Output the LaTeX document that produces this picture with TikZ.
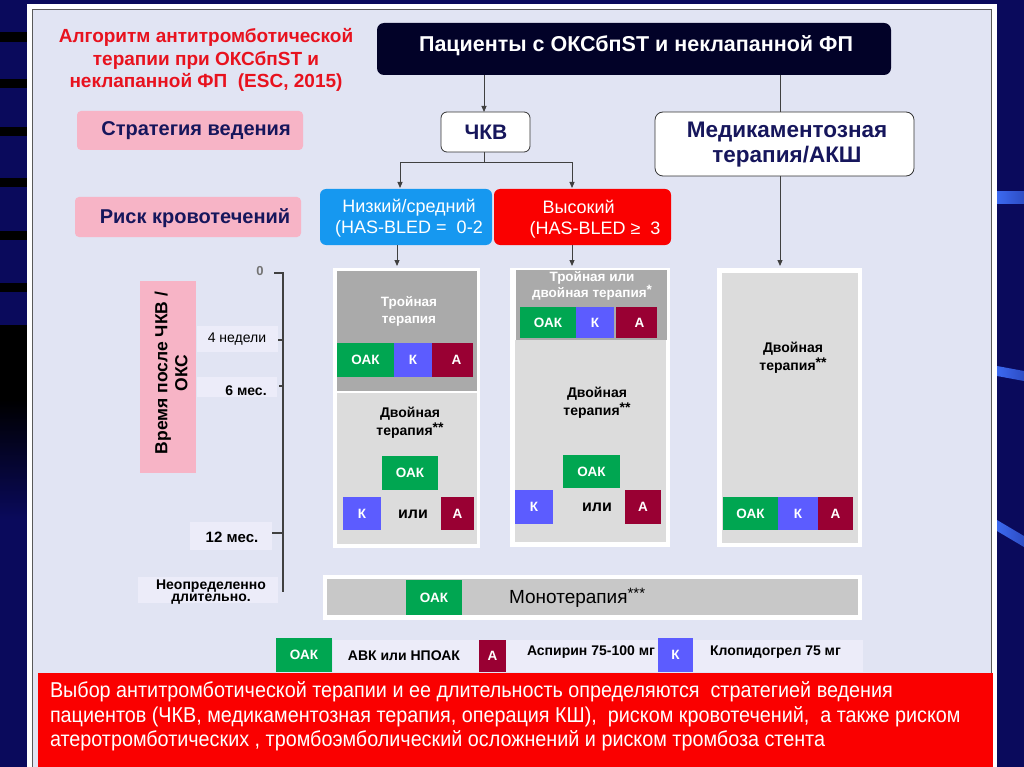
\documentclass[tikz,border=0pt]{standalone}
\usepackage{fontspec}
\setmainfont{Liberation Sans}
\newfontfamily\narrowfont[FakeStretch=0.92]{Liberation Sans}
\usetikzlibrary{arrows.meta}
\definecolor{bgnavy}{RGB}{10,10,92}
\definecolor{panel}{RGB}{225,228,243}
\definecolor{pinkl}{RGB}{247,180,198}
\definecolor{navytxt}{RGB}{22,22,92}
\definecolor{topnavy}{RGB}{2,2,40}
\definecolor{lowblue}{RGB}{22,152,240}
\definecolor{hired}{RGB}{250,0,0}
\definecolor{titlered}{RGB}{232,18,30}
\definecolor{gtop}{RGB}{170,170,170}
\definecolor{glight}{RGB}{220,220,220}
\definecolor{gmono}{RGB}{200,200,200}
\definecolor{oakgreen}{RGB}{0,166,81}
\definecolor{kblue}{RGB}{92,92,255}
\definecolor{amaroon}{RGB}{153,0,51}
\definecolor{lblbg}{RGB}{236,236,249}
\definecolor{streak}{RGB}{60,105,240}
\newcommand\mybox[7]{\node[#6, minimum width={(#4-#2)*1pt}, minimum height={(#5-#3)*1pt}] (#1) at ({(#2+#4)/2},{(#3+#5)/2}) {#7};}
\newcommand\fs[2]{\fontsize{#1}{#2}\selectfont}
\begin{document}
\begin{tikzpicture}[x=1pt,y=-1pt,
  every node/.style={inner sep=0pt, outer sep=0pt},
  arr/.style={-{Triangle[length=6pt,width=5pt]}, draw=black!75, line width=0.9pt},
  ln/.style={draw=black!75, line width=0.9pt},
  pill/.style={text=white, font=\bfseries\fs{13.5}{15}},
  dbl/.style={font=\bfseries\fs{14}{18}, align=center, text=black},
  tlab/.style={fill=lblbg, text=black},
  legtxt/.style={font=\bfseries\fs{14}{16}, text=black}
]
\useasboundingbox (0,0) rectangle (1024,767);
% background
\fill[bgnavy] (0,0) rectangle (1024,767);
\foreach \a/\b in {32/42,79/88,127/136,178/187,231/240,283/292}{\fill[black] (0,\a) rectangle (27,\b);}
\fill[black] (0,325) rectangle (27,400);
\shade[top color=black, bottom color=bgnavy] (0,400) rectangle (27,520);
\shade[left color=streak, right color=streak!70!bgnavy] (997,192) rectangle (1024,204);
\shade[left color=streak, right color=streak!70!bgnavy] (997,366) -- (1024,371) -- (1024,381) -- (997,376) -- cycle;
\shade[left color=streak, right color=streak!70!bgnavy] (997,520) -- (1024,536) -- (1024,547) -- (997,531) -- cycle;
% panel
\fill[white] (27,4) rectangle (997,767);
\filldraw[fill=panel, draw=gray!70!black, line width=0.8pt] (32,9) rectangle (991,780);
\fill[hired] (38,673) rectangle (993,767);
% title
\node[align=center, text=titlered, font=\bfseries\fs{19}{22.5}] (title) at (206,60) {Алгоритм антитромботической\\терапии при ОКСбпST и\\неклапанной ФП\ \ (ESC, 2015)};
% top boxes
\mybox{pat}{377}{23}{891}{75}{rounded corners=7pt, fill=topnavy}{}
\node[text=white, font=\bfseries\fs{21.5}{24}] (pattxt) at (636,46) {Пациенты с ОКСбпST и неклапанной ФП};
\mybox{chkv}{441}{112}{530}{152}{rounded corners=6pt, fill=white, draw=black!80, line width=0.8pt}{}
\node[text=navytxt, font=\bfseries\fs{21}{24}] (chkvtxt) at (486,132) {ЧКВ};
\mybox{med}{655}{112}{914}{176}{rounded corners=8pt, fill=white, draw=black!80, line width=0.8pt}{}
\node[text=navytxt, font=\bfseries\fs{22.5}{25}, align=center] (medtxt) at (787,145) {Медикаментозная\\терапия/АКШ};
% risk boxes
\mybox{low}{320}{189}{492}{245}{rounded corners=6pt, fill=lowblue}{}
\node[text=white, font=\fs{18}{20.5}, align=center] (lowtxt) at (409,218) {Низкий/средний\\(HAS-BLED =\ \ 0-2};
\mybox{high}{494}{189}{671}{245}{rounded corners=6pt, fill=hired}{}
\node[text=white, font=\fs{18}{20.5}, align=left] (hightxt) at (595,219) {\hspace{13pt}Высокий\\(HAS-BLED ≥\ \ 3};
% pink labels
\mybox{strat}{77}{111}{303}{150}{rounded corners=4pt, fill=pinkl}{}
\node[text=navytxt, font=\bfseries\fs{20}{22}] (strattxt) at (196,131) {Стратегия ведения};
\mybox{risk}{75}{197}{301}{237}{rounded corners=4pt, fill=pinkl}{}
\node[text=navytxt, font=\bfseries\fs{20}{22}] (risktxt) at (195,218) {Риск кровотечений};
% connectors
\draw[arr] (pat.south -| 484,0) -- (chkv.north -| 484,0);
\draw[ln] (pat.south -| 780,0) -- (med.north -| 780,0);
\coordinate (split) at (484,162);
\draw[ln] (chkv.south -| 484,0) -- (split);
\draw[arr] (split) -| (400,188);
\draw[arr] (split) -| (572,188);
% columns
\mybox{c1}{333}{268}{480}{548}{fill=white}{}
\mybox{c2}{510}{268}{670}{547}{fill=white}{}
\mybox{c3}{717}{268}{862}{547}{fill=white}{}
\draw[arr] (low.south -| 397,0) -- ([yshift=2pt]c1.north -| 397,0);
\draw[arr] (high.south -| 572,0) -- ([yshift=2pt]c2.north -| 572,0);
\draw[arr] (med.south -| 780,0) -- ([yshift=2pt]c3.north -| 780,0);
% column 1
\mybox{c1top}{337}{271}{477}{391}{fill=gtop}{}
\mybox{c1bot}{337}{393}{477}{544}{fill=glight}{}
\node[text=white, font=\bfseries\fs{13.5}{17}, align=center] (c1t) at (409,311) {Тройная\\терапия};
\mybox{c1o}{337}{343}{394}{377}{pill, fill=oakgreen}{ОАК}
\mybox{c1k}{394}{343}{432}{377}{pill, fill=kblue}{К}
\mybox{c1a}{432}{343}{473}{377}{pill, fill=amaroon}{\hspace{8pt}А}
\node[dbl] (c1d) at (410,423) {Двойная\\терапия\raisebox{3pt}{**}};
\mybox{c1o2}{382}{456}{438}{490}{pill, fill=oakgreen}{ОАК}
\mybox{c1k2}{343}{497}{381}{530}{pill, fill=kblue}{К}
\node[font=\bfseries\fs{16}{18}] (c1or) at (413,514) {или};
\mybox{c1a2}{441}{497}{474}{530}{pill, fill=amaroon}{А}
% column 2
\mybox{c2top}{516}{270}{667}{340}{fill=gtop}{}
\mybox{c2bot}{515}{340}{666}{542}{fill=glight}{}
\node[text=white, font=\bfseries\fs{13.5}{12.5}, align=center] (c2t) at (592,286) {Тройная или\\двойная терапия\raisebox{3pt}{*}};
\mybox{c2o}{520}{307}{576}{338}{pill, fill=oakgreen}{ОАК}
\mybox{c2k}{576}{307}{614}{338}{pill, fill=kblue}{К}
\mybox{c2a}{616}{307}{657}{338}{pill, fill=amaroon}{\hspace{6pt}А}
\node[dbl] (c2d) at (597,403) {Двойная\\терапия\raisebox{3pt}{**}};
\mybox{c2o2}{563}{455}{620}{488}{pill, fill=oakgreen}{ОАК}
\mybox{c2k2}{515}{490}{553}{524}{pill, fill=kblue}{К}
\node[font=\bfseries\fs{16}{18}] (c2or) at (597,507) {или};
\mybox{c2a2}{625}{490}{661}{524}{pill, fill=amaroon}{А}
% column 3
\mybox{c3in}{722}{273}{858}{543}{fill=glight}{}
\node[dbl] (c3d) at (793,358) {Двойная\\терапия\raisebox{3pt}{**}};
\mybox{c3o}{723}{497}{778}{530}{pill, fill=oakgreen}{ОАК}
\mybox{c3k}{778}{497}{818}{530}{pill, fill=kblue}{К}
\mybox{c3a}{818}{497}{853}{530}{pill, fill=amaroon}{А}
% timeline
\mybox{vert}{140}{281}{196}{473}{fill=pinkl}{}
\node[rotate=90, align=center, font=\bfseries\fs{17.5}{20}, text=black] (verttxt) at (171,373) {Время после ЧКВ /\\ОКС};
\coordinate (t0) at (283,272);
\coordinate (tend) at (283,592);
\draw[draw=black!75, line width=1.4pt] (t0) -- (tend);
\draw[draw=black!75, line width=1.2pt] (274,273) -- (283,273) (277,340) -- (283,340) (279,386) -- (283,386) (272,533) -- (283,533);
\node[text=black!55, font=\bfseries\fs{13}{15}] (l0) at (260,271) {0};
\mybox{l4}{197}{326}{278}{352}{tlab}{}
\node[font=\fs{14}{15}] (l4t) at (237,339) {4 недели};
\mybox{l6}{197}{377}{277}{397}{tlab}{}
\node[font=\bfseries\fs{14}{15}] (l6t) at (246,391) {6 мес.};
\mybox{l12}{190}{522}{272}{550}{tlab}{}
\node[font=\bfseries\fs{15}{15}] (l12t) at (232,537) {12 мес.};
\mybox{lind}{138}{577}{278}{603}{tlab}{}
\node[font=\bfseries\fs{14}{12.5}, align=center] (lindt) at (211,592) {Неопределенно\\длительно.};
% monotherapy
\mybox{mono}{323}{575}{862}{620}{fill=white}{}
\mybox{monoin}{327}{579}{858}{615}{fill=gmono}{}
\mybox{monoo}{406}{580}{462}{615}{pill, fill=oakgreen}{ОАК}
\node[font=\fs{19}{20}, anchor=west] (monot) at (509,598) {Монотерапия\raisebox{5pt}{\fs{15}{15}***}};
% legend
\fill[lblbg] (333,640) rectangle (863,672);
\mybox{lego}{276}{638}{332}{672}{pill, fill=oakgreen}{ОАК}
\node[legtxt] (legot) at (404,656) {АВК или НПОАК};
\mybox{lega}{479}{640}{506}{672}{pill, fill=amaroon}{А}
\node[legtxt, anchor=west] (legat) at (527,652) {Аспирин 75-100 мг};
\mybox{legk}{658}{638}{693}{672}{pill, fill=kblue}{К}
\node[legtxt, anchor=west] (legkt) at (710,652) {Клопидогрел 75 мг};
% bottom red note
\node[text=white, font=\narrowfont\fs{21.5}{24.5}, align=left, anchor=north west] (note) at (50,682) {Выбор антитромботической терапии и ее длительность определяются\ \ стратегией ведения\\пациентов (ЧКВ, медикаментозная терапия, операция КШ),\ \ риском кровотечений,\ \ а также риском\\атеротромботических , тромбоэмболический осложнений и риском тромбоза стента};
\end{tikzpicture}
\end{document}
